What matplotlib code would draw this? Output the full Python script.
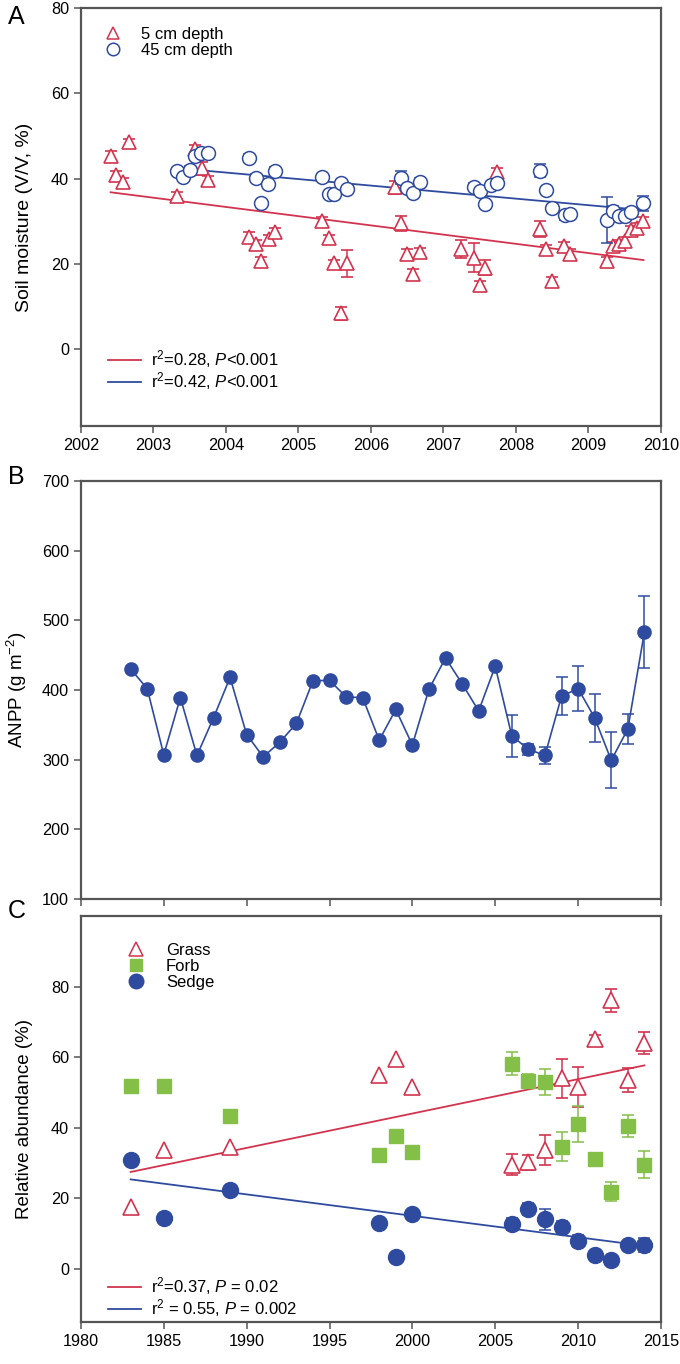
import numpy as np
import matplotlib
matplotlib.use("Agg")
import matplotlib.pyplot as plt
from matplotlib.lines import Line2D

plt.rcParams['font.family'] = ['Liberation Sans', 'DejaVu Sans']
plt.rcParams['mathtext.fontset'] = 'custom'
plt.rcParams['mathtext.rm'] = 'Liberation Sans'
plt.rcParams['mathtext.it'] = 'Liberation Sans:italic'

RED = '#d2344f'
BLUE = '#2f4b9f'
GREEN = '#84bf48'
SPINE = '#555555'

# ---- panel A: soil moisture ----
a_red_x = [2002.41, 2002.49, 2002.58, 2002.66, 2003.32, 2003.57, 2003.67, 2003.75,
           2004.32, 2004.42, 2004.49, 2004.59, 2004.67, 2005.33, 2005.42, 2005.49,
           2005.59, 2005.67, 2006.33, 2006.42, 2006.50, 2006.58, 2006.67, 2007.24,
           2007.42, 2007.50, 2007.58, 2007.74, 2008.33, 2008.41, 2008.50, 2008.66,
           2008.75, 2009.25, 2009.34, 2009.42, 2009.50, 2009.59, 2009.67, 2009.75]
a_red_y = [45.4, 40.9, 39.1, 48.5, 36.0, 47.0, 42.4, 39.7,
           26.4, 24.6, 20.7, 25.8, 27.4, 30.0, 26.0, 20.1,
           8.4, 20.1, 38.0, 29.5, 22.4, 17.7, 22.7, 23.5,
           21.5, 15.1, 19.1, 41.5, 28.2, 23.5, 16.0, 24.2,
           22.4, 20.7, 24.2, 24.6, 25.4, 27.9, 28.5, 30.0]
a_red_err = [1.0, 1.0, 1.0, 0.8, 0.8, 1.0, 1.5, 1.0,
             1.0, 1.0, 1.0, 1.0, 1.0, 1.0, 0.8, 0.8,
             1.5, 3.2, 1.5, 1.8, 1.0, 1.0, 1.0, 2.0,
             3.5, 1.0, 1.8, 1.0, 1.8, 1.0, 1.0, 1.0,
             1.0, 1.0, 1.0, 1.0, 1.0, 1.0, 1.0, 1.0]

a_blue_x = [2003.33, 2003.41, 2003.50, 2003.57, 2003.66, 2003.75, 2004.32, 2004.42,
            2004.49, 2004.58, 2004.67, 2005.33, 2005.42, 2005.49, 2005.59, 2005.67,
            2006.41, 2006.50, 2006.58, 2006.67, 2007.42, 2007.50, 2007.58, 2007.66,
            2007.74, 2008.33, 2008.41, 2008.50, 2008.67, 2008.75, 2009.25, 2009.34,
            2009.42, 2009.50, 2009.59, 2009.75]
a_blue_y = [41.7, 40.3, 42.1, 45.2, 46.0, 46.1, 44.8, 40.2,
            34.2, 38.7, 41.9, 40.3, 36.4, 36.4, 38.9, 37.6,
            40.2, 37.7, 36.6, 39.3, 38.1, 37.0, 34.0, 38.4,
            39.0, 41.9, 37.3, 33.2, 31.4, 31.8, 30.3, 32.5,
            31.3, 31.3, 32.1, 34.2]
a_blue_err = [0.8, 0.8, 0.8, 0.8, 0.8, 0.5, 1.0, 0.8,
              0.8, 0.8, 0.8, 0.8, 0.8, 0.8, 0.8, 0.8,
              1.5, 0.8, 0.8, 0.8, 0.8, 0.8, 0.8, 0.8,
              0.8, 1.5, 0.8, 0.5, 1.0, 0.8, 5.5, 1.0,
              1.0, 1.0, 1.0, 1.7]

# regression fits (slope per year, value at start, x range)
a_red_fit = (-2.163, 36.8, 2002.41, 2009.76)
a_blue_fit = (-1.53, 41.9, 2003.69, 2009.76)

# ---- panel B: ANPP ----
b_years = list(range(1983, 2015))
b_anpp = [430, 402, 307, 389, 306, 360, 418, 336, 304, 325, 352, 413, 414, 390, 389,
          328, 372, 321, 401, 446, 409, 370, 434, 334, 315, 306, 391, 402, 360, 299,
          344, 483]
b_err = [np.nan] * 23 + [30, 8, 12, 27, 32, 34, 40, 21, 52]

# ---- panel C: relative abundance ----
c_years = [1983, 1985, 1989, 1998, 1999, 2000, 2006, 2007, 2008, 2009, 2010, 2011,
           2012, 2013, 2014]
c_grass = [17.5, 33.6, 34.6, 55.1, 59.6, 51.5, 29.6, 30.2, 33.8, 54.0, 51.6, 65.3,
           76.1, 53.5, 64.0]
c_grass_err = [np.nan] * 6 + [3.0, 2.0, 4.2, 5.6, 5.6, 1.0, 3.3, 3.4, 3.1]
c_forb = [51.9, 51.9, 43.4, 32.4, 37.6, 33.1, 58.2, 53.2, 53.0, 34.7, 41.1, 31.3,
          21.9, 40.6, 29.6]
c_forb_err = [np.nan] * 6 + [3.3, 2.0, 3.7, 4.2, 5.0, np.nan, 2.7, 3.1, 3.9]
c_sedge = [30.8, 14.6, 22.3, 13.1, 3.5, 15.7, 12.9, 16.9, 14.1, 11.9, 8.0, 4.0,
           2.5, 6.8, 6.8]
c_sedge_err = [np.nan] * 6 + [1.7, 1.7, 3.0, 1.7, 1.7, 1.0, np.nan, 1.0, 2.0]

c_grass_fit = (0.974, 27.5, 1983, 2014)
c_sedge_fit = (-0.607, 25.4, 1983, 2013)


def fit_line(ax, fit, color):
    slope, y0, x0, x1 = fit
    xs = np.array([x0, x1])
    ax.plot(xs, y0 + slope * (xs - x0), color=color, lw=1.3, zorder=1)


def style_axes(ax):
    for s in ax.spines.values():
        s.set_color(SPINE)
        s.set_linewidth(1.6)
    ax.tick_params(direction='out', length=5, width=1.1, color=SPINE,
                   labelsize=11.7, top=False, right=False)


fig = plt.figure(figsize=(6.8, 13.64), dpi=100)
axA = fig.add_axes([0.119, 0.6877, 0.853, 0.3064])
axB = fig.add_axes([0.119, 0.3409, 0.853, 0.3065])
axC = fig.add_axes([0.119, 0.0308, 0.853, 0.2976])

# panel A
fit_line(axA, a_red_fit, RED)
fit_line(axA, a_blue_fit, BLUE)
axA.errorbar(a_red_x, a_red_y, yerr=a_red_err, fmt='^', ms=10, mfc='white',
             mec=RED, mew=1.2, ecolor=RED, elinewidth=1.1, capsize=4, capthick=1.1,
             zorder=2)
axA.errorbar(a_blue_x, a_blue_y, yerr=a_blue_err, fmt='o', ms=10, mfc='white',
             mec=BLUE, mew=1.1, ecolor=BLUE, elinewidth=1.1, capsize=4, capthick=1.1,
             zorder=3)
axA.set_xlim(2002, 2010)
axA.set_ylim(-18, 80)
axA.set_xticks(range(2002, 2011))
axA.set_yticks([0, 20, 40, 60, 80])
axA.set_ylabel('Soil moisture (V/V, %)', fontsize=14, labelpad=13)
style_axes(axA)
h1 = [Line2D([], [], ls='none', marker='^', ms=9, mfc='white', mec=RED, mew=1.1),
      Line2D([], [], ls='none', marker='o', ms=9, mfc='white', mec=BLUE, mew=1.1)]
leg1 = axA.legend(h1, ['5 cm depth', '45 cm depth'], loc='upper left', frameon=False,
                  fontsize=12, handletextpad=0.7, labelspacing=0.05,
                  bbox_to_anchor=(0.0, 0.99))
axA.add_artist(leg1)
h2 = [Line2D([], [], color=RED, lw=1.3), Line2D([], [], color=BLUE, lw=1.3)]
axA.legend(h2, [r'r$^2$=0.28, $\it{P}$<0.001', r'r$^2$=0.42, $\it{P}$<0.001'],
           loc='lower left', frameon=False, fontsize=12, handlelength=2.0,
           handletextpad=0.6, labelspacing=0.0, bbox_to_anchor=(0.02, 0.045))

# panel B
axB.errorbar(b_years, b_anpp, yerr=b_err, fmt='-o', color=BLUE, ms=9.5, lw=1.2,
             elinewidth=1.1, capsize=4, capthick=1.1)
axB.set_xlim(1980, 2015)
axB.set_ylim(100, 700)
axB.set_xticks(range(1980, 2016, 5))
axB.set_xticklabels([])
axB.set_yticks(range(100, 701, 100))
axB.set_ylabel(r'ANPP (g m$^{-2}$)', fontsize=13.5, labelpad=9)
style_axes(axB)

# panel C
fit_line(axC, c_grass_fit, RED)
fit_line(axC, c_sedge_fit, BLUE)
axC.errorbar(c_years, c_grass, yerr=c_grass_err, fmt='^', ms=11, mfc='white',
             mec=RED, mew=1.2, ecolor=RED, elinewidth=1.1, capsize=4.5, capthick=1.1,
             zorder=2)
axC.errorbar(c_years, c_forb, yerr=c_forb_err, fmt='s', ms=9.5, mfc=GREEN, mec=GREEN,
             ecolor=GREEN, elinewidth=1.1, capsize=4.5, capthick=1.1, zorder=3)
axC.errorbar(c_years, c_sedge, yerr=c_sedge_err, fmt='o', ms=11.5, mfc=BLUE, mec=BLUE,
             ecolor=BLUE, elinewidth=1.1, capsize=4.5, capthick=1.1, zorder=4)
axC.set_xlim(1980, 2015)
axC.set_ylim(-15, 100)
axC.set_xticks(range(1980, 2016, 5))
axC.set_yticks([0, 20, 40, 60, 80])
axC.set_ylabel('Relative abundance (%)', fontsize=13.5, labelpad=13)
style_axes(axC)
h3 = [Line2D([], [], ls='none', marker='^', ms=10, mfc='white', mec=RED, mew=1.1),
      Line2D([], [], ls='none', marker='s', ms=9, mfc=GREEN, mec=GREEN),
      Line2D([], [], ls='none', marker='o', ms=10.5, mfc=BLUE, mec=BLUE)]
leg3 = axC.legend(h3, ['Grass', 'Forb', 'Sedge'], loc='upper left', frameon=False,
                  fontsize=12, handletextpad=0.8, labelspacing=0.05,
                  bbox_to_anchor=(0.04, 0.97))
axC.add_artist(leg3)
axC.legend(h2, [r'r$^2$=0.37, $\it{P}$ = 0.02', r'r$^2$ = 0.55, $\it{P}$ = 0.002'],
           loc='lower left', frameon=False, fontsize=12, handlelength=2.0,
           handletextpad=0.6, labelspacing=0.0, bbox_to_anchor=(0.02, -0.03))

for lab, y in [('A', 0.996), ('B', 0.659), ('C', 0.341)]:
    fig.text(0.012, y, lab, fontsize=18, va='top', ha='left')

fig.savefig('out.png', dpi=100)
